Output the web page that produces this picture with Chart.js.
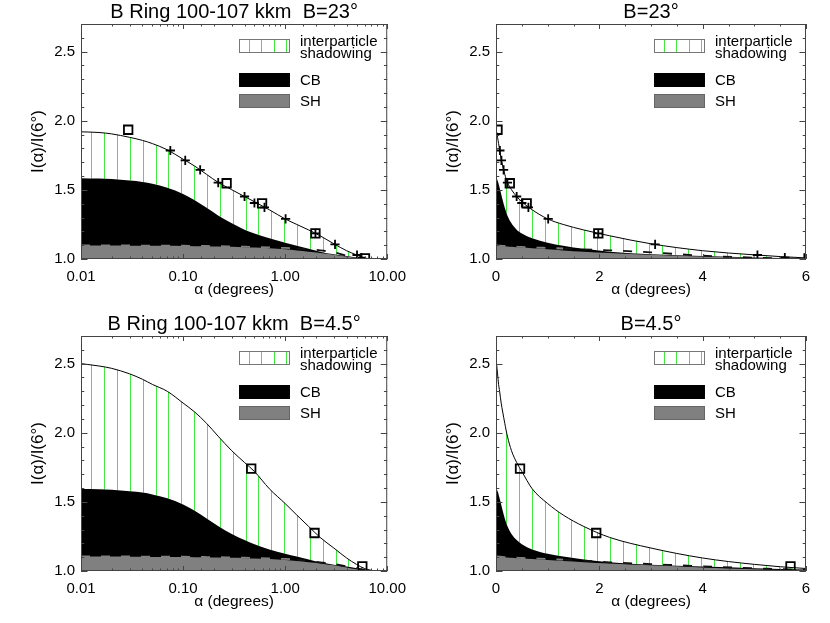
<!DOCTYPE html>
<html>
<head>
<meta charset="utf-8">
<script src="https://cdn.jsdelivr.net/npm/chart.js@4/dist/chart.umd.min.js"></script>
<style>
  body { margin: 0; background: #fff; width: 830px; height: 623px; position: relative; overflow: hidden; }
  canvas { position: absolute; }
</style>
</head>
<body>
<canvas id="c1" width="415" height="311" style="left:0;top:0"></canvas>
<canvas id="c2" width="415" height="311" style="left:415px;top:0"></canvas>
<canvas id="c3" width="415" height="311" style="left:0;top:312px"></canvas>
<canvas id="c4" width="415" height="311" style="left:415px;top:312px"></canvas>
<script>
// phase angle samples (degrees) shared by all model curves
const alpha = [0.01, 0.015, 0.02, 0.03, 0.04, 0.05, 0.07, 0.1, 0.13, 0.17, 0.22, 0.3, 0.4, 0.5, 0.7, 1.0, 1.3, 1.7, 2.2, 3.0, 4.0, 5.0, 6.0, 8.0, 10.0];

// B = 23 deg models
const total23 = [1.920, 1.915, 1.905, 1.880, 1.858, 1.835, 1.790, 1.722, 1.672, 1.612, 1.555, 1.501, 1.452, 1.414, 1.356, 1.290, 1.250, 1.210, 1.168, 1.110, 1.060, 1.030, 1.008, 0.995, 0.990];
const cb23    = [1.585, 1.582, 1.578, 1.567, 1.557, 1.544, 1.516, 1.471, 1.425, 1.370, 1.315, 1.258, 1.212, 1.185, 1.150, 1.118, 1.096, 1.074, 1.053, 1.034, 1.021, 1.011, 1.003, 0.993, 0.987];
const sh23    = [1.097, 1.097, 1.097, 1.096, 1.096, 1.095, 1.095, 1.094, 1.093, 1.092, 1.090, 1.088, 1.085, 1.083, 1.078, 1.070, 1.062, 1.053, 1.044, 1.031, 1.018, 1.008, 1.000, 0.990, 0.985];
const dash23  = [1.098, 1.098, 1.098, 1.098, 1.097, 1.097, 1.097, 1.096, 1.095, 1.094, 1.093, 1.091, 1.089, 1.087, 1.084, 1.080, 1.076, 1.070, 1.063, 1.048, 1.024, 1.010, 1.001, 0.992, 0.988];

// B = 23 deg observations
const sqAlpha23 = [0.029, 0.267, 0.594, 1.98, 6.05];
const sqI23     = [1.935, 1.548, 1.403, 1.186, 1.005];
const plusAlpha23 = [0.075, 0.105, 0.147, 0.221, 0.40, 0.50, 0.627, 1.01, 1.98, 3.08, 5.06, 5.59];
const plusI23     = [1.785, 1.713, 1.645, 1.553, 1.452, 1.405, 1.374, 1.290, 1.186, 1.106, 1.029, 1.010];

// B = 4.5 deg models
const total45 = [2.500, 2.483, 2.466, 2.426, 2.387, 2.350, 2.300, 2.215, 2.150, 2.068, 1.976, 1.870, 1.785, 1.720, 1.595, 1.488, 1.405, 1.322, 1.243, 1.166, 1.094, 1.048, 1.018, 0.998, 0.990];
const cb45    = [1.594, 1.592, 1.588, 1.577, 1.567, 1.554, 1.526, 1.481, 1.435, 1.380, 1.326, 1.268, 1.224, 1.194, 1.155, 1.124, 1.104, 1.084, 1.064, 1.046, 1.032, 1.020, 1.010, 0.998, 0.992];
const sh45    = [1.104, 1.104, 1.104, 1.103, 1.103, 1.102, 1.102, 1.101, 1.100, 1.099, 1.097, 1.095, 1.093, 1.090, 1.086, 1.079, 1.072, 1.064, 1.055, 1.041, 1.026, 1.013, 1.003, 0.994, 0.990];
const dash45  = [1.105, 1.105, 1.105, 1.105, 1.104, 1.104, 1.104, 1.103, 1.102, 1.101, 1.100, 1.098, 1.096, 1.094, 1.091, 1.087, 1.082, 1.075, 1.063, 1.050, 1.034, 1.020, 1.008, 0.996, 0.990];

// B = 4.5 deg observations
const sqAlpha45 = [0.465, 1.94, 5.7];
const sqI45     = [1.740, 1.275, 1.034];

// axis ticks
const logTickValues = [0.01, 0.1, 1, 10];
const logTickLabels = ['0.01', '0.10', '1.00', '10.00'];
const linTickValues = [0, 2, 4, 6];
const linTickLabels = ['0', '2', '4', '6'];
const yTickValues = [1.0, 1.5, 2.0, 2.5];
const yTickLabels = ['1.0', '1.5', '2.0', '2.5'];

const legendLabels = [['interparticle', 'shadowing'], ['CB'], ['SH']];

const GRAY = '#808080';
const HATCH = '#40e840';
const FONT = "'Liberation Sans', Arial, Helvetica, sans-serif";

Chart.defaults.font.family = FONT;
Chart.defaults.color = '#000';

function matchTick(v, values) {
    return values.findIndex(t => Math.abs(t - v) < 1e-6 * Math.max(1, t));
}

// hatch positions: evenly spaced in device space (log decades / linear units)
function hatchPositions(logX) {
    const out = [];
    if (logX) {
        for (let e = -1.9; e <= 1.0; e += 0.126) out.push(Math.pow(10, e));
    } else {
        for (let a = 0.2; a <= 6.0; a += 0.2516) out.push(a);
    }
    return out;
}

// vertical hatch between the CB curve and the total curve
function hatchPlugin(positions) {
    return {
        id: 'hatch',
        beforeDatasetsDraw(chart) {
            const ctx = chart.ctx, area = chart.chartArea, xs = chart.scales.x;
            const find = lbl => chart.data.datasets.findIndex(d => d.label === lbl);
            const topMeta = chart.getDatasetMeta(find('total'));
            const lowMeta = chart.getDatasetMeta(find('CB'));
            topMeta.dataset.updateControlPoints(area, 'x');
            lowMeta.dataset.updateControlPoints(area, 'x');
            const top = topMeta.data, low = lowMeta.data;

            ctx.save();
            ctx.beginPath();
            ctx.rect(area.left, area.top, area.right - area.left, area.bottom - area.top);
            ctx.clip();
            ctx.beginPath();
            ctx.moveTo(top[0].x, top[0].y);
            for (let i = 1; i < top.length; i++) {
                const p = top[i - 1], q = top[i];
                if (p.cp2x !== undefined && q.cp1x !== undefined) {
                    ctx.bezierCurveTo(p.cp2x, p.cp2y, q.cp1x, q.cp1y, q.x, q.y);
                } else {
                    ctx.lineTo(q.x, q.y);
                }
            }
            ctx.lineTo(low[low.length - 1].x, low[low.length - 1].y);
            for (let i = low.length - 1; i > 0; i--) {
                const p = low[i], q = low[i - 1];
                if (p.cp1x !== undefined && q.cp2x !== undefined) {
                    ctx.bezierCurveTo(p.cp1x, p.cp1y, q.cp2x, q.cp2y, q.x, q.y);
                } else {
                    ctx.lineTo(q.x, q.y);
                }
            }
            ctx.closePath();
            ctx.clip();

            ctx.strokeStyle = HATCH;
            ctx.lineWidth = 1;
            ctx.beginPath();
            positions.forEach(a => {
                const x = Math.round(xs.getPixelForValue(a)) + 0.5;
                ctx.moveTo(x, area.top);
                ctx.lineTo(x, area.bottom);
            });
            ctx.stroke();
            ctx.restore();
        }
    };
}

// box frame with inward ticks on all four sides
function framePlugin(logX) {
    return {
        id: 'frame',
        afterDatasetsDraw(chart) {
            const {ctx, chartArea: a, scales: {x, y}} = chart;
            ctx.save();
            ctx.strokeStyle = '#444';
            ctx.lineWidth = 1;
            ctx.strokeRect(a.left + 0.5, a.top + 0.5, a.right - a.left - 1, a.bottom - a.top - 1);
            ctx.beginPath();
            x.ticks.forEach(t => {
                const v = t.value;
                const major = logX
                    ? Math.abs(Math.log10(v) - Math.round(Math.log10(v))) < 1e-6
                    : Math.abs(v / 2 - Math.round(v / 2)) < 1e-6;
                const len = major ? 5 : 2.5;
                const px = Math.round(x.getPixelForValue(v)) + 0.5;
                ctx.moveTo(px, a.bottom); ctx.lineTo(px, a.bottom - len);
                ctx.moveTo(px, a.top); ctx.lineTo(px, a.top + len);
            });
            y.ticks.forEach(t => {
                const v = t.value;
                const major = Math.abs(v * 2 - Math.round(v * 2)) < 1e-6;
                const len = major ? 6.5 : 3.3;
                const py = Math.round(y.getPixelForValue(v)) + 0.5;
                ctx.moveTo(a.left, py); ctx.lineTo(a.left + len, py);
                ctx.moveTo(a.right, py); ctx.lineTo(a.right - len, py);
            });
            ctx.stroke();
            ctx.restore();
        }
    };
}

// legend boxes in the upper right of each panel
const boxLegend = {
    id: 'boxLegend',
    afterDraw(chart) {
        const {ctx, chartArea: a} = chart;
        const bx = a.left + 158, bw = 50;
        ctx.save();

        // interparticle shadowing
        let by = a.top + 15;
        ctx.fillStyle = '#fff';
        ctx.fillRect(bx, by, bw, 13);
        ctx.strokeStyle = HATCH;
        ctx.beginPath();
        for (let k = 0; k < 4; k++) {
            const lx = Math.round(bx + 10 + 12.3 * k) + 0.5;
            ctx.moveTo(lx, by); ctx.lineTo(lx, by + 13);
        }
        ctx.stroke();
        ctx.strokeStyle = '#777';
        ctx.strokeRect(bx + 0.5, by + 0.5, bw, 13);

        // CB
        ctx.fillStyle = '#000';
        ctx.fillRect(bx, a.top + 49, bw + 1, 14);
        // SH
        ctx.fillStyle = GRAY;
        ctx.fillRect(bx, a.top + 70, bw + 1, 14);
        ctx.strokeStyle = '#666';
        ctx.strokeRect(bx + 0.5, a.top + 70.5, bw, 13);

        ctx.fillStyle = '#000';
        ctx.font = '15px ' + FONT;
        ctx.textBaseline = 'middle';
        ctx.textAlign = 'left';
        const tx = a.left + 219;
        ctx.fillText(legendLabels[0][0], tx, a.top + 17.5);
        ctx.fillText(legendLabels[0][1], tx, a.top + 29.5);
        ctx.fillText(legendLabels[1][0], tx, a.top + 57);
        ctx.fillText(legendLabels[2][0], tx, a.top + 77.5);
        ctx.restore();
    }
};

function pts(xs, ys) {
    return xs.map((x, i) => ({x: x, y: ys[i]}));
}

function makePanel(id, logX, title, d) {
    const datasets = [];
    if (d.plusA) {
        datasets.push({
            label: 'plus', data: pts(d.plusA, d.plusI), showLine: false,
            pointStyle: 'cross', pointRadius: 4.6, pointBorderWidth: 1.8,
            pointBorderColor: '#000', pointBackgroundColor: '#000', clip: 0
        });
    }
    datasets.push({
        label: 'data', data: pts(d.sqA, d.sqI), showLine: false,
        pointStyle: 'rect', pointRadius: 6, pointBorderWidth: 1.8,
        pointBorderColor: '#000', pointBackgroundColor: 'rgba(0,0,0,0)', clip: 0
    });
    datasets.push({
        label: 'total', data: pts(alpha, d.total), borderColor: '#000', borderWidth: 1,
        pointRadius: 0, cubicInterpolationMode: 'monotone', fill: false
    });
    datasets.push({
        label: 'dash', data: pts(alpha, d.dash), borderColor: '#111', borderWidth: 1.8,
        borderDash: [9, 11], pointRadius: 0, cubicInterpolationMode: 'monotone', fill: false,
        segment: { borderColor: c => (c.p0.parsed.x < 1.2 ? GRAY : '#111') }
    });
    datasets.push({
        label: 'SH', data: pts(alpha, d.sh), borderColor: 'rgba(0,0,0,0)', borderWidth: 1,
        pointRadius: 0, cubicInterpolationMode: 'monotone', fill: 'start', backgroundColor: GRAY
    });
    datasets.push({
        label: 'CB', data: pts(alpha, d.cb), borderColor: 'rgba(0,0,0,0)', borderWidth: 1,
        pointRadius: 0, cubicInterpolationMode: 'monotone', fill: 'start', backgroundColor: '#000'
    });

    return new Chart(document.getElementById(id), {
        type: 'line',
        data: { datasets: datasets },
        options: {
            responsive: false,
            animation: false,
            events: [],
            layout: { padding: { left: 0, right: 24, top: 0, bottom: 0 } },
            plugins: {
                legend: { display: false },
                tooltip: { enabled: false },
                title: {
                    display: true, text: title, fullSize: false,
                    font: { size: 20, weight: 'normal' }, color: '#000',
                    padding: { top: 0, bottom: 0 }
                }
            },
            scales: {
                x: {
                    type: logX ? 'logarithmic' : 'linear',
                    min: logX ? 0.01 : 0,
                    max: logX ? 10 : 6,
                    afterFit: s => { s.height = 52; },
                    grid: { display: false, drawTicks: false },
                    border: { display: false },
                    ticks: {
                        autoSkip: false, maxRotation: 0, padding: 9,
                        stepSize: logX ? undefined : 0.5,
                        font: { size: 15 },
                        callback: v => {
                            const vals = logX ? logTickValues : linTickValues;
                            const labs = logX ? logTickLabels : linTickLabels;
                            const k = matchTick(v, vals);
                            return k >= 0 ? labs[k] : '';
                        }
                    },
                    title: {
                        display: true, text: 'α (degrees)', font: { size: 15.5 },
                        padding: { top: 0, bottom: 12 }
                    }
                },
                y: {
                    min: 1.0, max: 2.7,
                    afterFit: s => { s.width = 81; },
                    grid: { display: false, drawTicks: false },
                    border: { display: false },
                    ticks: {
                        autoSkip: false, stepSize: 0.1, padding: 6,
                        font: { size: 15 },
                        callback: v => {
                            const k = matchTick(v, yTickValues);
                            return k >= 0 ? yTickLabels[k] : '';
                        }
                    },
                    title: {
                        display: true, text: 'I(α)/I(6°)', font: { size: 17 },
                        padding: { top: 28, bottom: 0 }
                    }
                }
            }
        },
        plugins: [hatchPlugin(hatchPositions(logX)), framePlugin(logX), boxLegend]
    });
}

const b23 = { total: total23, cb: cb23, sh: sh23, dash: dash23, sqA: sqAlpha23, sqI: sqI23, plusA: plusAlpha23, plusI: plusI23 };
const b45 = { total: total45, cb: cb45, sh: sh45, dash: dash45, sqA: sqAlpha45, sqI: sqI45 };

makePanel('c1', true,  'B Ring 100-107 kkm  B=23°', b23);
makePanel('c2', false, 'B=23°', b23);
makePanel('c3', true,  'B Ring 100-107 kkm  B=4.5°', b45);
makePanel('c4', false, 'B=4.5°', b45);
</script>
</body>
</html>
